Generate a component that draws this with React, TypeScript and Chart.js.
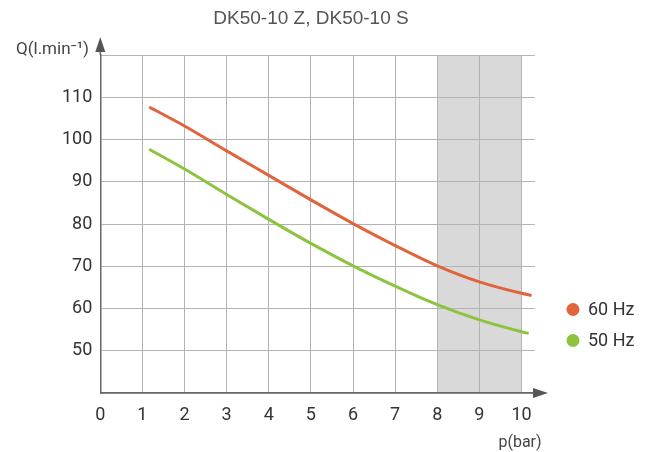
import React, { useEffect, useRef } from "react";
import { Chart, registerables } from "chart.js";

Chart.register(...registerables);

const TITLE = "DK50-10 Z, DK50-10 S";
const Y_LABEL = "Q(l.min⁻¹)";
const X_LABEL = "p(bar)";

const P60_X = [1.16, 2, 3, 4, 5, 6, 7, 8, 9, 10, 10.24];
const Q60 = [107.7, 103.2, 97.3, 91.5, 85.7, 80.1, 74.9, 70.1, 66.3, 63.6, 63.1];
const P50_X = [1.16, 2, 3, 4, 5, 6, 7, 8, 9, 10, 10.17];
const Q50 = [97.7, 93.0, 87.0, 81.1, 75.4, 70.1, 65.3, 60.9, 57.3, 54.5, 54.1];

const SERIES_LABELS = ["60 Hz", "50 Hz"];
const SERIES_COLORS = ["#e0643c", "#8cc43f"];
const SHADE_FROM = 8;
const SHADE_TO = 10;

const X_TICK_MAX = 10;
const Y_LABELED = [50, 60, 70, 80, 90, 100, 110];

export default function App() {
  const ref = useRef<HTMLCanvasElement | null>(null);

  useEffect(() => {
    const canvas = ref.current;
    if (!canvas) return;

    const decor = {
      id: "decor",
      beforeDraw(chart: any) {
        const { ctx, chartArea, scales } = chart;
        const xs = scales.x;
        ctx.save();
        ctx.fillStyle = "#d9d9d9";
        const x1 = xs.getPixelForValue(SHADE_FROM);
        const x2 = xs.getPixelForValue(SHADE_TO);
        ctx.fillRect(x1, chartArea.top, x2 - x1, chartArea.bottom - chartArea.top);
        ctx.restore();
      },
      afterDraw(chart: any) {
        const { ctx, chartArea } = chart;
        const left = chartArea.left;
        const bottom = chartArea.bottom;
        ctx.save();
        ctx.fillStyle = "#555";
        ctx.strokeStyle = "#666";
        ctx.lineWidth = 1.5;
        // y-axis arrow
        ctx.beginPath();
        ctx.moveTo(left, chartArea.top);
        ctx.lineTo(left, chartArea.top - 4);
        ctx.stroke();
        ctx.beginPath();
        ctx.moveTo(left, chartArea.top - 18);
        ctx.lineTo(left - 5, chartArea.top - 3);
        ctx.lineTo(left + 5, chartArea.top - 3);
        ctx.closePath();
        ctx.fill();
        // x-axis arrow
        ctx.beginPath();
        ctx.moveTo(chartArea.right - 2, bottom - 5);
        ctx.lineTo(chartArea.right + 13, bottom);
        ctx.lineTo(chartArea.right - 2, bottom + 5);
        ctx.closePath();
        ctx.fill();

        // title
        ctx.fillStyle = "#555";
        ctx.font = "19px 'Liberation Sans', Arial, sans-serif";
        ctx.textAlign = "center";
        ctx.textBaseline = "middle";
        ctx.fillText(TITLE, 311, 19);

        // axis labels
        ctx.fillStyle = "#444";
        ctx.font = "17px Roboto, sans-serif";
        ctx.textAlign = "right";
        ctx.textBaseline = "alphabetic";
        ctx.fillText(Y_LABEL, 89, 54);
        ctx.font = "16px Roboto, sans-serif";
        ctx.textAlign = "center";
        ctx.textBaseline = "middle";
        ctx.fillText(X_LABEL, 520, 443);

        // legend
        const items = chart.data.datasets;
        const ys = [309.5, 340.5];
        items.forEach((ds: any, i: number) => {
          ctx.fillStyle = ds.borderColor;
          ctx.beginPath();
          ctx.arc(573, ys[i], 6.5, 0, Math.PI * 2);
          ctx.fill();
          ctx.fillStyle = "#333";
          ctx.font = "18px Roboto, sans-serif";
          ctx.textAlign = "left";
          ctx.textBaseline = "middle";
          ctx.fillText(ds.label, 588, ys[i] + 1);
        });
        ctx.restore();
      },
    };

    const chart = new Chart(canvas, {
      type: "scatter",
      data: {
        datasets: [
          {
            label: SERIES_LABELS[0],
            data: P60_X.map((x, i) => ({ x, y: Q60[i] })),
            borderColor: SERIES_COLORS[0],
            backgroundColor: SERIES_COLORS[0],
            showLine: true,
            borderWidth: 3,
            pointRadius: 0,
            cubicInterpolationMode: "monotone",
          },
          {
            label: SERIES_LABELS[1],
            data: P50_X.map((x, i) => ({ x, y: Q50[i] })),
            borderColor: SERIES_COLORS[1],
            backgroundColor: SERIES_COLORS[1],
            showLine: true,
            borderWidth: 3,
            pointRadius: 0,
            cubicInterpolationMode: "monotone",
          },
        ],
      },
      options: {
        responsive: false,
        animation: false,
        layout: { padding: { left: 0, top: 55, right: 117, bottom: 0 } },
        plugins: {
          legend: { display: false },
          title: { display: false },
          tooltip: { enabled: false },
        },
        scales: {
          x: {
            type: "linear",
            min: 0,
            max: 10.32,
            afterFit: (s: any) => {
              s.height = 59;
            },
            ticks: {
              stepSize: 1,
              includeBounds: false,
              padding: 12,
              color: "#333",
              font: { family: "Roboto, sans-serif", size: 18 },
              callback: (v: any) => (v <= X_TICK_MAX ? String(v) : ""),
            },
            grid: {
              color: (c: any) => (c.tick && c.tick.value > X_TICK_MAX ? "rgba(0,0,0,0)" : "#b3b3b3"),
              lineWidth: 1,
              drawTicks: false,
            },
            border: { display: true, color: "#666", width: 1.5 },
          },
          y: {
            type: "linear",
            min: 40,
            max: 120,
            afterFit: (s: any) => {
              s.width = 100.3;
            },
            ticks: {
              stepSize: 10,
              padding: 8,
              color: "#333",
              font: { family: "Roboto, sans-serif", size: 18 },
              callback: (v: any) => (Y_LABELED.includes(v) ? String(v) : ""),
            },
            grid: { color: "#b3b3b3", lineWidth: 1, drawTicks: false },
            border: { display: true, color: "#666", width: 1.5 },
          },
        },
      },
      plugins: [decor],
    });

    return () => chart.destroy();
  }, []);

  return (
    <div style={{ position: "fixed", left: 0, top: 0, width: 652, height: 452, background: "#fff" }}>
      <canvas ref={ref} width={652} height={452} />
    </div>
  );
}
